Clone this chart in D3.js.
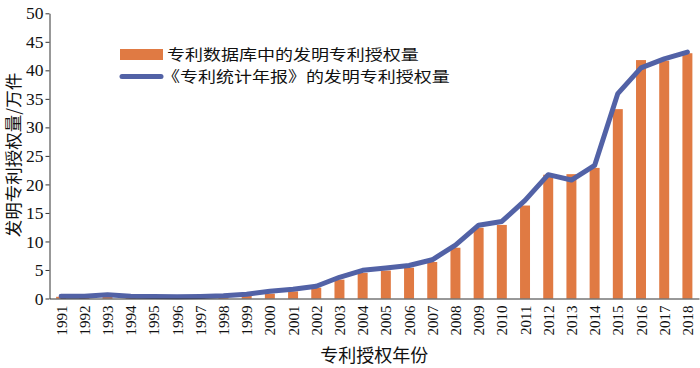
<!DOCTYPE html>
<html><head><meta charset="utf-8">
<script src="https://cdn.jsdelivr.net/npm/d3@7"></script>
<style>
html,body{margin:0;padding:0;background:#fff;}
svg{display:block;}
</style></head>
<body>
<svg id="c" width="700" height="368"></svg>
<script>
const years = ["1991","1992","1993","1994","1995","1996","1997","1998","1999","2000","2001","2002","2003","2004","2005","2006","2007","2008","2009","2010","2011","2012","2013","2014","2015","2016","2017","2018"];
const dbGrants = [0.3,0.3,0.5,0.3,0.25,0.25,0.3,0.35,0.5,0.85,1.25,1.9,3.3,4.5,4.9,5.4,6.4,8.9,12.4,12.9,16.3,21.7,21.8,22.9,33.2,41.8,41.7,43.0];
const reportGrants = [0.41,0.40,0.66,0.39,0.34,0.30,0.35,0.47,0.76,1.27,1.63,2.15,3.72,4.94,5.33,5.78,6.79,9.37,12.85,13.51,17.21,21.71,20.77,23.32,35.93,40.42,42.01,43.21];
const yTicks = [0,5,10,15,20,25,30,35,40,45,50];
const legendLabels = ["专利数据库中的发明专利授权量","《专利统计年报》的发明专利授权量"];
const xTitle = "专利授权年份";
const yTitle = "发明专利授权量/万件";

const orange = "#E07A43", blue = "#5262A6";
const svg = d3.select("#c");
const L = 49.5, R = 699, T = 13.3, B = 298.5;
const x = d3.scaleBand().domain(years).range([L, R]).paddingInner(0.57).paddingOuter(0.285);
const y = d3.scaleLinear().domain([0, 50]).range([B, T]);
const cjk = "'Noto Sans CJK SC', sans-serif";
const serif = "'Liberation Serif', 'Times New Roman', serif";

// bars
svg.append("g").selectAll("rect").data(years).join("rect")
  .attr("x", d => x(d)).attr("width", x.bandwidth())
  .attr("y", (d,i) => y(dbGrants[i])).attr("height", (d,i) => B - y(dbGrants[i]))
  .attr("fill", orange);

// line
const line = d3.line().x((d,i) => x(years[i]) + x.bandwidth()/2).y(d => y(d));
svg.append("path").datum(reportGrants).attr("d", line)
  .attr("fill", "none").attr("stroke", blue).attr("stroke-width", 5)
  .attr("stroke-linejoin", "round").attr("stroke-linecap", "round");

// y axis
const ya = svg.append("g").attr("transform", `translate(${L},0)`)
  .call(d3.axisLeft(y).tickValues(yTicks).tickSize(4).tickPadding(2).tickSizeOuter(0));
ya.select(".domain").attr("stroke", "#333");
ya.selectAll("line").attr("stroke", "#333");
ya.selectAll("text").attr("font-family", serif).attr("font-size", 17.5).attr("fill", "#111");

// x axis
const xa = svg.append("g").attr("transform", `translate(0,${B})`)
  .call(d3.axisBottom(x).tickSize(0).tickSizeOuter(0));
xa.select(".domain").attr("stroke", "#333");
xa.selectAll("text").attr("font-family", serif).attr("font-size", 15).attr("fill", "#111")
  .attr("text-anchor", "end").attr("dy", null).attr("y", 0)
  .attr("transform", "translate(5.5,7) rotate(-90)");

// titles
svg.append("text").attr("x", (L+R)/2).attr("y", 362).attr("text-anchor", "middle")
  .attr("font-family", cjk).attr("font-size", 18).attr("fill", "#111").text(xTitle);
svg.append("text").attr("transform", "translate(20,155) rotate(-90)").attr("text-anchor", "middle")
  .attr("font-family", cjk).attr("font-size", 17.5).attr("fill", "#111").text(yTitle);

// legend
const lg = svg.append("g");
lg.append("rect").attr("x", 120).attr("y", 49).attr("width", 43).attr("height", 11).attr("fill", orange);
lg.append("line").attr("x1", 122).attr("x2", 161).attr("y1", 76.5).attr("y2", 76.5)
  .attr("stroke", blue).attr("stroke-width", 5).attr("stroke-linecap", "round");
lg.selectAll("text").data(legendLabels).join("text")
  .attr("transform", (d,i) => `translate(${i === 0 ? 167 : 162},${60.2 + i*22}) scale(1,0.84)`)
  .attr("font-family", cjk).attr("font-size", 18).attr("fill", "#111")
  .text(d => d);
</script>
</body></html>
